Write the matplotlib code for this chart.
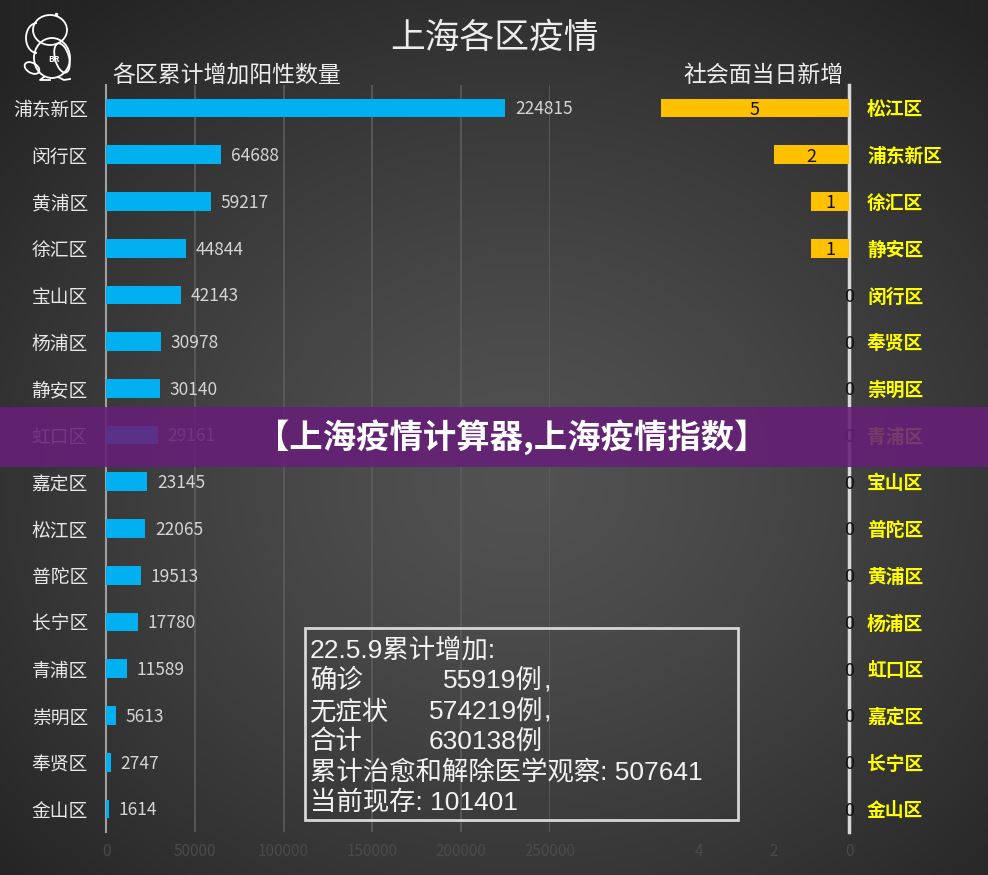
import matplotlib
matplotlib.use("Agg")
import matplotlib.pyplot as plt
import numpy as np
from matplotlib.patches import Rectangle, Ellipse, Arc

plt.rcParams['font.family'] = ['Noto Sans CJK SC', 'DejaVu Sans']

# data
left_cats = ['浦东新区', '闵行区', '黄浦区', '徐汇区', '宝山区', '杨浦区', '静安区', '虹口区',
             '嘉定区', '松江区', '普陀区', '长宁区', '青浦区', '崇明区', '奉贤区', '金山区']
left_vals = [224815, 64688, 59217, 44844, 42143, 30978, 30140, 29161,
             23145, 22065, 19513, 17780, 11589, 5613, 2747, 1614]
right_cats = ['松江区', '浦东新区', '徐汇区', '静安区', '闵行区', '奉贤区', '崇明区', '青浦区',
              '宝山区', '普陀区', '黄浦区', '杨浦区', '虹口区', '嘉定区', '长宁区', '金山区']
right_vals = [5, 2, 1, 1, 0, 0, 0, 0, 0, 0, 0, 0, 0, 0, 0, 0]
left_ticks = [0, 50000, 100000, 150000, 200000, 250000]
right_ticks = [0, 2, 4]

summary_head = '22.5.9累计增加:'
summary_rows = [('确诊', '55919例', ','), ('无症状', '574219例', ','), ('合计', '630138例', '')]
summary_tail = ['累计治愈和解除医学观察: 507641', '当前现存: 101401']

W, H = 988, 875
fig = plt.figure(figsize=(W / 100, H / 100), dpi=100)


def fx(x):
    return x / W


def fy(y):
    return 1 - y / H


# dark radial background
bg = fig.add_axes([0, 0, 1, 1], zorder=-10)
yy, xx = np.mgrid[0:H, 0:W]
r = np.sqrt(((xx - 520) / 700.0) ** 2 + ((yy - 480) / 600.0) ** 2)
shade = (0x52 - (0x52 - 0x24) * np.clip(r, 0, 1) ** 1.3) / 255.0
bg.imshow(np.dstack([shade] * 3), aspect='auto', extent=[0, W, H, 0])
bg.set_xlim(0, W)
bg.set_ylim(H, 0)
bg.axis('off')

# rough parrot logo, drawn in pixel coords on the background axes
lw_logo = 1.3
bg.add_patch(Ellipse((50, 30), 34, 30, fill=False, ec='white', lw=lw_logo))
bg.add_patch(Arc((37, 38), 22, 30, theta1=90, theta2=270, ec='white', lw=lw_logo))
bg.add_patch(Ellipse((52, 58), 36, 40, fill=False, ec='white', lw=lw_logo))
bg.add_patch(Ellipse((62, 58), 14, 30, angle=-15, fill=False, ec='white', lw=lw_logo))
bg.add_patch(Ellipse((32, 68), 16, 10, angle=30, fill=False, ec='white', lw=lw_logo))
bg.plot([44, 40, 50], [77, 80, 80], color='white', lw=lw_logo)
bg.plot([58, 64, 70], [77, 80, 79], color='white', lw=lw_logo)
bg.plot([56], [14], marker='o', ms=1.5, color='white')
bg.text(54, 60, 'BR', ha='center', va='center', fontsize=6, fontweight='bold', color='white')

n = len(left_cats)
row_top, row_step = 108, 46.73
ax_top = row_top - 0.5 * row_step
ax_bot = row_top + (n - 0.5) * row_step
y = np.arange(n)
tick_col = '#4a4a4a'

# left chart
ax1 = fig.add_axes([fx(106), fy(ax_bot), fx(550 - 106), (ax_bot - ax_top) / H])
ax1.set_facecolor('none')
ax1.barh(y, left_vals, height=0.4, color='#00b0f0', zorder=3)
ax1.set_ylim(n - 0.5, -0.5)
ax1.set_xlim(0, 250000)
ax1.set_xticks(left_ticks)
ax1.set_yticks(y)
ax1.set_yticklabels(left_cats)
ax1.tick_params(axis='y', length=0, pad=13, labelsize=13.5, labelcolor='#e8e8e8')
ax1.tick_params(axis='x', length=0, pad=8, labelsize=11, labelcolor=tick_col)
ax1.grid(axis='x', color='#5c5c5c', lw=1.2, zorder=0)
for s in ['top', 'right', 'bottom']:
    ax1.spines[s].set_visible(False)
ax1.spines['left'].set_color('#a0a0a0')
ax1.spines['left'].set_linewidth(1.5)
for i, v in enumerate(left_vals):
    ax1.annotate(str(v), (v, i), xytext=(7, -1), textcoords='offset points',
                 va='center', ha='left', fontsize=12.5, color='#d4d4d4', zorder=4)

# right chart (reversed)
r_left = 849 - 6.5 * 37.6
ax2 = fig.add_axes([fx(r_left), fy(ax_bot), fx(849 - r_left), (ax_bot - ax_top) / H])
ax2.set_facecolor('none')
ax2.barh(y, right_vals, height=0.4, color='#ffc000', zorder=3)
ax2.set_ylim(n - 0.5, -0.5)
ax2.set_xlim(6.5, 0)
ax2.set_xticks(right_ticks)
ax2.set_yticks(y)
ax2.set_yticklabels(right_cats)
ax2.yaxis.tick_right()
ax2.tick_params(axis='y', length=0, pad=13, labelsize=13.5, labelcolor='#ffff00')
for t in ax2.get_yticklabels():
    t.set_fontweight('bold')
ax2.tick_params(axis='x', length=0, pad=8, labelsize=11, labelcolor=tick_col)
for s in ['top', 'left', 'bottom']:
    ax2.spines[s].set_visible(False)
ax2.spines['right'].set_color('#d9d9d9')
ax2.spines['right'].set_linewidth(2.5)
for i, v in enumerate(right_vals):
    if v > 0:
        ax2.text(v / 2, i + 0.04, str(v), ha='center', va='center', fontsize=13, color='#111111', zorder=4)
    else:
        ax2.text(0.0, i + 0.04, '0', ha='center', va='center', fontsize=13, color='#111111', zorder=4)

# titles
fig.text(fx(494), fy(38), '上海各区疫情', ha='center', va='center', fontsize=25, color='#ececec')
fig.text(fx(112), fy(75), '各区累计增加阳性数量', ha='left', va='center', fontsize=16.5, color='#ececec')
fig.text(fx(843), fy(75), '社会面当日新增', ha='right', va='center', fontsize=16.5, color='#ececec')

# summary box
fig.add_artist(Rectangle((fx(305), fy(820)), fx(738 - 305), (820 - 628) / H, transform=fig.transFigure,
                         facecolor='none', edgecolor='#d6d6d6', lw=2, zorder=5))
line_y = [650, 681, 712, 742, 772, 802]
txt = dict(va='center', fontsize=19, color='#f2f2f2', zorder=6,
           family=['Liberation Sans', 'Noto Sans CJK SC'])
fig.text(fx(310), fy(line_y[0]), summary_head, ha='left', **txt)
for k, (lab, num, tail) in enumerate(summary_rows):
    fig.text(fx(310), fy(line_y[k + 1]), lab, ha='left', **txt)
    fig.text(fx(543), fy(line_y[k + 1]), num, ha='right', **txt)
    if tail:
        fig.text(fx(544), fy(line_y[k + 1]), tail, ha='left', **txt)
for k, s in enumerate(summary_tail):
    fig.text(fx(310), fy(line_y[k + 4]), s, ha='left', **txt)

# purple banner on top
fig.add_artist(Rectangle((0, fy(467)), 1, 60 / H, transform=fig.transFigure,
                         facecolor='#661f78', alpha=0.88, lw=0, zorder=20))
fig.text(fx(512), fy(437), '【上海疫情计算器,上海疫情指数】', ha='center', va='center',
         fontsize=24, fontweight='bold', color='white', zorder=21)

fig.savefig('out.png', dpi=100)
